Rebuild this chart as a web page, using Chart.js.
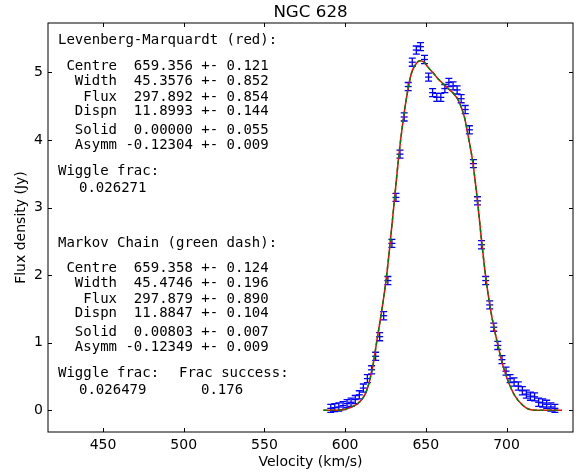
<!DOCTYPE html>
<html>
<head>
<meta charset="utf-8">
<script src="https://cdn.jsdelivr.net/npm/chart.js@4.4.0/dist/chart.umd.min.js"></script>
<style>
  html, body { margin: 0; padding: 0; background: #fff; }
  #wrap { width: 584px; height: 475px; }
</style>
</head>
<body>
<div id="wrap"><canvas id="profileChart" width="584" height="475"></canvas></div>
<script>
// -----------------------------
// Channel data (km/s, Jy)
// -----------------------------
const velocity = [
  591.1, 593.6, 596.1, 598.7, 601.2, 603.7, 606.3, 608.8, 611.3, 613.8,
  616.4, 618.9, 621.4, 623.9, 626.5, 629.0, 631.5, 634.0, 636.6, 639.1,
  641.6, 644.1, 646.7, 649.2, 651.7, 654.2, 656.8, 659.3, 661.8, 664.3,
  666.9, 669.4, 671.9, 674.4, 677.0, 679.5, 682.0, 684.5, 687.1, 689.6,
  692.1, 694.6, 697.2, 699.7, 702.2, 704.7, 707.3, 709.8, 712.3, 714.8,
  717.4, 719.9, 722.4, 724.9, 727.5, 730.0
];
const flux = [
  0.03, 0.04, 0.05, 0.07, 0.10, 0.12, 0.16, 0.23, 0.33, 0.47,
  0.60, 0.80, 1.09, 1.40, 1.92, 2.47, 3.15, 3.79, 4.34, 4.79,
  5.15, 5.33, 5.38, 5.19, 4.93, 4.70, 4.63, 4.63, 4.76, 4.85,
  4.80, 4.74, 4.61, 4.45, 4.15, 3.65, 3.10, 2.45, 1.92, 1.56,
  1.23, 0.96, 0.75, 0.58, 0.47, 0.42, 0.36, 0.29, 0.24, 0.21,
  0.20, 0.12, 0.11, 0.09, 0.05, 0.03
];
const fluxErr = new Array(flux.length).fill(0.06);

// -----------------------------
// Fitted profiles
// -----------------------------
const modelVel = [
  586.5, 594.8, 598.9, 603.0, 607.2, 610.3, 613.0, 615.4, 617.5, 619.8,
  622.2, 625.5, 628.0, 630.7, 633.2, 635.9, 638.3, 641.0, 644.4, 646.4,
  648.9, 651.6, 654.6, 657.7, 660.8, 663.9, 667.0, 670.1, 672.2, 674.3,
  676.3, 678.4, 679.4, 682.1, 684.6, 687.2, 689.7, 692.3, 694.9, 697.6,
  700.3, 702.2, 705.3, 709.4, 713.5, 718.7, 734.2
];
const lmFlux = [
  0.00, 0.00, 0.01, 0.04, 0.09, 0.16, 0.27, 0.46, 0.70, 1.05,
  1.40, 1.95, 2.50, 3.15, 3.75, 4.28, 4.66, 4.98, 5.14, 5.17,
  5.15, 5.07, 4.99, 4.90, 4.83, 4.76, 4.69, 4.59, 4.47, 4.30,
  4.05, 3.78, 3.62, 3.08, 2.50, 1.96, 1.55, 1.22, 0.94, 0.68,
  0.48, 0.36, 0.21, 0.09, 0.02, 0.00, 0.00
];
const mcmcFlux = [
  0.00, 0.00, 0.01, 0.04, 0.09, 0.16, 0.27, 0.46, 0.70, 1.05,
  1.40, 1.95, 2.50, 3.15, 3.75, 4.28, 4.66, 4.98, 5.14, 5.17,
  5.15, 5.07, 4.99, 4.90, 4.83, 4.76, 4.69, 4.59, 4.47, 4.30,
  4.05, 3.78, 3.62, 3.08, 2.50, 1.96, 1.55, 1.22, 0.94, 0.68,
  0.48, 0.36, 0.21, 0.09, 0.02, 0.00, 0.00
];

const xTicks = [450, 500, 550, 600, 650, 700];
const yTicks = [0, 1, 2, 3, 4, 5];

// -----------------------------
// Fit summaries
// -----------------------------
const lmHeader = "Levenberg-Marquardt (red):";
const lmLines = [
  " Centre  659.356 +- 0.121",
  "  Width  45.3576 +- 0.852",
  "   Flux  297.892 +- 0.854",
  "  Dispn  11.8993 +- 0.144",
  "  Solid  0.00000 +- 0.055",
  "  Asymm -0.12304 +- 0.009"
];
const lmWiggle = "0.026271";

const mcHeader = "Markov Chain (green dash):";
const mcLines = [
  " Centre  659.358 +- 0.124",
  "  Width  45.4746 +- 0.196",
  "   Flux  297.879 +- 0.890",
  "  Dispn  11.8847 +- 0.104",
  "  Solid  0.00803 +- 0.007",
  "  Asymm -0.12349 +- 0.009"
];
const mcWiggle = "0.026479";
const mcSuccess = "0.176";

const MONO = "14px 'DejaVu Sans Mono', monospace";
const SANS = "'DejaVu Sans', sans-serif";

// -----------------------------
// Error bars under the points
// -----------------------------
const errorBars = {
  id: "errorBars",
  beforeDatasetsDraw(chart) {
    const { ctx, scales: { x, y } } = chart;
    ctx.save();
    ctx.strokeStyle = "#0000ff";
    ctx.lineWidth = 1.3;
    velocity.forEach((v, i) => {
      const px = x.getPixelForValue(v);
      const top = y.getPixelForValue(flux[i] + fluxErr[i]);
      const bot = y.getPixelForValue(flux[i] - fluxErr[i]);
      ctx.beginPath();
      ctx.moveTo(px, top); ctx.lineTo(px, bot);
      ctx.moveTo(px - 3.5, top); ctx.lineTo(px + 3.5, top);
      ctx.moveTo(px - 3.5, bot); ctx.lineTo(px + 3.5, bot);
      ctx.stroke();
    });
    ctx.restore();
  }
};

// -----------------------------
// Box frame with inward ticks
// -----------------------------
const frame = {
  id: "frame",
  afterDraw(chart) {
    const { ctx, chartArea: a, scales: { x, y } } = chart;
    const len = 4;
    ctx.save();
    ctx.strokeStyle = "#000";
    ctx.lineWidth = 1;
    ctx.strokeRect(a.left, a.top, a.right - a.left, a.bottom - a.top);
    ctx.beginPath();
    xTicks.forEach(t => {
      const px = Math.round(x.getPixelForValue(t)) + 0.5;
      ctx.moveTo(px, a.bottom); ctx.lineTo(px, a.bottom - len);
      ctx.moveTo(px, a.top); ctx.lineTo(px, a.top + len);
    });
    yTicks.forEach(t => {
      const py = Math.round(y.getPixelForValue(t)) + 0.5;
      ctx.moveTo(a.left, py); ctx.lineTo(a.left + len, py);
      ctx.moveTo(a.right, py); ctx.lineTo(a.right - len, py);
    });
    ctx.stroke();
    ctx.restore();
  }
};

// -----------------------------
// Title and fit text
// -----------------------------
const annotations = {
  id: "annotations",
  afterDraw(chart) {
    const { ctx, chartArea: a } = chart;
    ctx.save();
    ctx.fillStyle = "#000";
    ctx.textBaseline = "middle";

    ctx.font = "16.7px " + SANS;
    ctx.textAlign = "center";
    ctx.fillText("NGC 628", (a.left + a.right) / 2, 13);

    ctx.font = MONO;
    ctx.textAlign = "left";
    const offs = [0, 15.5, 31, 45, 64, 79.5];

    ctx.fillText(lmHeader, 58, 40.5);
    lmLines.forEach((s, i) => ctx.fillText(s, 58, 66 + offs[i]));
    ctx.fillText("Wiggle frac:", 58, 171.5);
    ctx.fillText(lmWiggle, 79, 188);

    ctx.fillText(mcHeader, 58, 243);
    mcLines.forEach((s, i) => ctx.fillText(s, 58, 268 + offs[i]));
    ctx.fillText("Wiggle frac:", 58, 373.5);
    ctx.fillText("Frac success:", 179, 373.5);
    ctx.fillText(mcWiggle, 79, 390);
    ctx.fillText(mcSuccess, 201, 390);
    ctx.restore();
  }
};

const ctx = document.getElementById("profileChart").getContext("2d");
new Chart(ctx, {
  type: "line",
  data: {
    datasets: [
      {
        label: "MCMC",
        data: modelVel.map((v, i) => ({ x: v, y: mcmcFlux[i] })),
        borderColor: "#008000",
        borderWidth: 1.5,
        borderDash: [4, 3],
        pointRadius: 0,
        cubicInterpolationMode: "monotone",
        order: 0
      },
      {
        label: "LM",
        data: modelVel.map((v, i) => ({ x: v, y: lmFlux[i] })),
        borderColor: "#ff0000",
        borderWidth: 1.5,
        pointRadius: 0,
        cubicInterpolationMode: "monotone",
        order: 1
      },
      {
        label: "Data",
        data: velocity.map((v, i) => ({ x: v, y: flux[i] })),
        showLine: false,
        pointStyle: "line",
        pointRadius: 3.5,
        borderColor: "#0000ff",
        borderWidth: 1.3,
        order: 2
      }
    ]
  },
  options: {
    responsive: false,
    animation: false,
    layout: { padding: { left: 0, top: 23, right: 11, bottom: 0 } },
    plugins: {
      legend: { display: false },
      tooltip: { enabled: false }
    },
    scales: {
      x: {
        type: "linear",
        min: 415.9,
        max: 741.2,
        afterFit: s => { s.height = 43; },
        afterBuildTicks: s => { s.ticks = xTicks.map(v => ({ value: v })); },
        grid: { display: false, drawTicks: false },
        border: { display: false },
        ticks: { color: "#000", font: { family: SANS, size: 14 }, padding: 5, maxRotation: 0 },
        title: {
          display: true, text: "Velocity (km/s)", color: "#000",
          font: { family: SANS, size: 14 }, padding: { top: 0, bottom: 4 }
        }
      },
      y: {
        min: -0.32,
        max: 5.73,
        afterFit: s => { s.width = 48; },
        afterBuildTicks: s => { s.ticks = yTicks.map(v => ({ value: v })); },
        grid: { display: false, drawTicks: false },
        border: { display: false },
        ticks: { color: "#000", font: { family: SANS, size: 14 }, padding: 5 },
        title: {
          display: true, text: "Flux density (Jy)", color: "#000",
          font: { family: SANS, size: 14 }, padding: { top: 12.6, bottom: 0 }
        }
      }
    }
  },
  plugins: [errorBars, frame, annotations]
});
</script>
</body>
</html>
